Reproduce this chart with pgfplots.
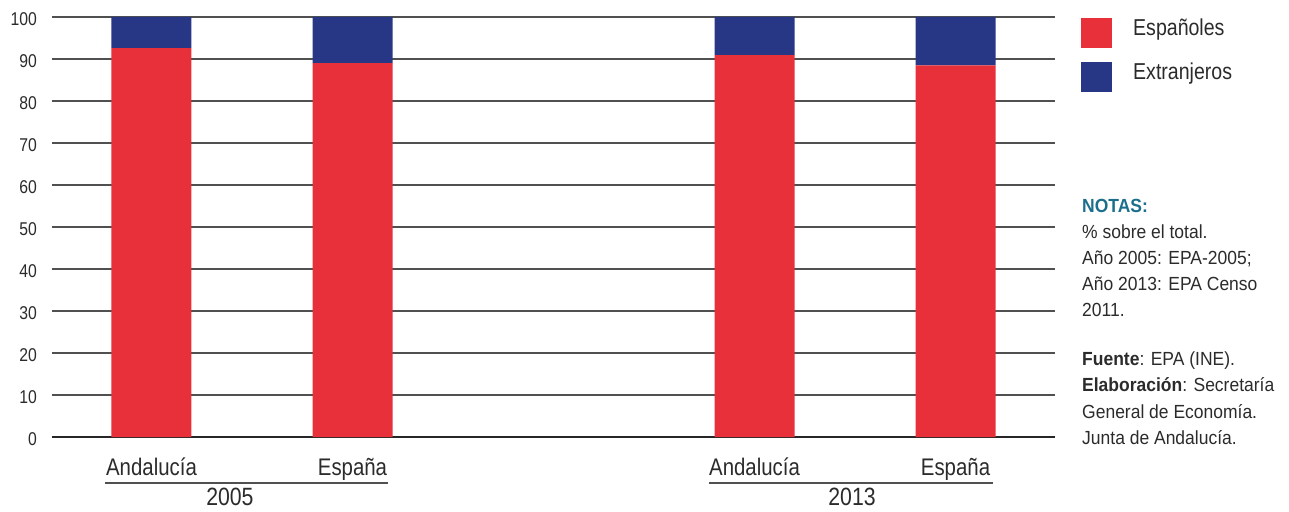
\documentclass[border=0pt]{standalone}
\usepackage{fontspec}
\setmainfont{Liberation Sans}[FakeStretch=0.85]
\newfontfamily\notasfont{Liberation Sans}[FakeStretch=0.92]
\usepackage{pgfplots}
\pgfplotsset{compat=1.18}
\usepackage{pgfplotstable}
\definecolor{rojo}{HTML}{E8303A}
\definecolor{azul}{HTML}{283785}
\definecolor{rejilla}{HTML}{505050}
\definecolor{texto}{HTML}{2B2B2B}
\definecolor{notas}{HTML}{1B6F8C}

\pgfplotstableread{
x  esp   ext
0  92.6  7.4
1  89.0  11.0
3  90.9  9.1
4  88.5  11.5
}\datos

\begin{document}
\begin{tikzpicture}[every node/.style={text=texto}]
\useasboundingbox (-52pt,-74pt) rectangle (1237pt,437pt);
\begin{axis}[
    at={(0,0)}, anchor=south west,
    scale only axis,
    width=1003pt, height=420pt,
    ybar stacked,
    bar width=80pt,
    xmin=-0.495, xmax=4.495,
    ymin=0, ymax=100,
    ytick={0,10,...,100},
    xtick={0,1,3,4},
    xticklabels={Andaluc\'ia, Espa\~na, Andaluc\'ia, Espa\~na},
    axis line style={draw=none},
    tick style={draw=none},
    ymajorgrids=true,
    grid style={rejilla, line width=1.5pt},
    yticklabel style={font=\fontsize{18.5}{20}\selectfont, inner sep=0pt, anchor=east, xshift=-15pt, yshift=-2.5pt},
    xticklabel style={font=\fontsize{24}{26}\selectfont, inner sep=0pt, anchor=base, yshift=-38pt},
    /pgf/number format/assume math mode=true,
    clip=false,
    legend style={at={(axis description cs:1.0259,0.9976)}, anchor=north west,
        draw=none, fill=none, inner sep=0pt, row sep=14pt, column sep=21pt,
        font=\fontsize{23}{25}\selectfont,
        cells={anchor=base west}, nodes={inner sep=0pt}},
    legend image code/.code={\fill[#1,draw=none] (0pt,-13pt) rectangle (31pt,17pt);},
]
\addplot[fill=rojo, draw=none] table[x=x, y=esp] {\datos};
\addlegendentry{Espa\~noles}
\addplot[fill=azul, draw=none] table[x=x, y=ext] {\datos};
\addlegendentry{Extranjeros}

\draw[black!85, line width=1.3pt] (axis cs:-0.495,0) -- (axis cs:4.495,0);
\draw[rejilla, line width=1.6pt] ([yshift=-46pt]axis cs:-0.231,0) -- ([yshift=-46pt]axis cs:1.177,0);
\draw[rejilla, line width=1.6pt] ([yshift=-46pt]axis cs:2.774,0) -- ([yshift=-46pt]axis cs:4.187,0);
\node[anchor=base, inner sep=0pt, font=\fontsize{25}{27}\selectfont] at ([yshift=-68pt]axis cs:0.39,0) {2005};
\node[anchor=base, inner sep=0pt, font=\fontsize{25}{27}\selectfont] at ([yshift=-68pt]axis cs:3.485,0) {2013};
\end{axis}

\begin{scope}[every node/.style={anchor=base west, inner sep=0pt, text=texto, font=\notasfont\fontsize{19}{21}\selectfont}]
\node[text=notas, font=\notasfont\fontsize{19}{21}\selectfont\bfseries] at (1030pt,224pt) {NOTAS:};
\node at (1030pt,198pt) {\% sobre el total.};
\node at (1030pt,172pt) {A\~no 2005: EPA-2005;};
\node at (1030pt,146pt) {A\~no 2013: EPA Censo};
\node at (1030pt,120pt) {2011.};
\node at (1030pt,71pt) {\textbf{Fuente}: EPA (INE).};
\node at (1030pt,45pt) {\textbf{Elaboraci\'on}: Secretar\'ia};
\node at (1030pt,19pt) {General de Econom\'ia.};
\node at (1030pt,-7pt) {Junta de Andaluc\'ia.};
\end{scope}
\end{tikzpicture}
\end{document}
